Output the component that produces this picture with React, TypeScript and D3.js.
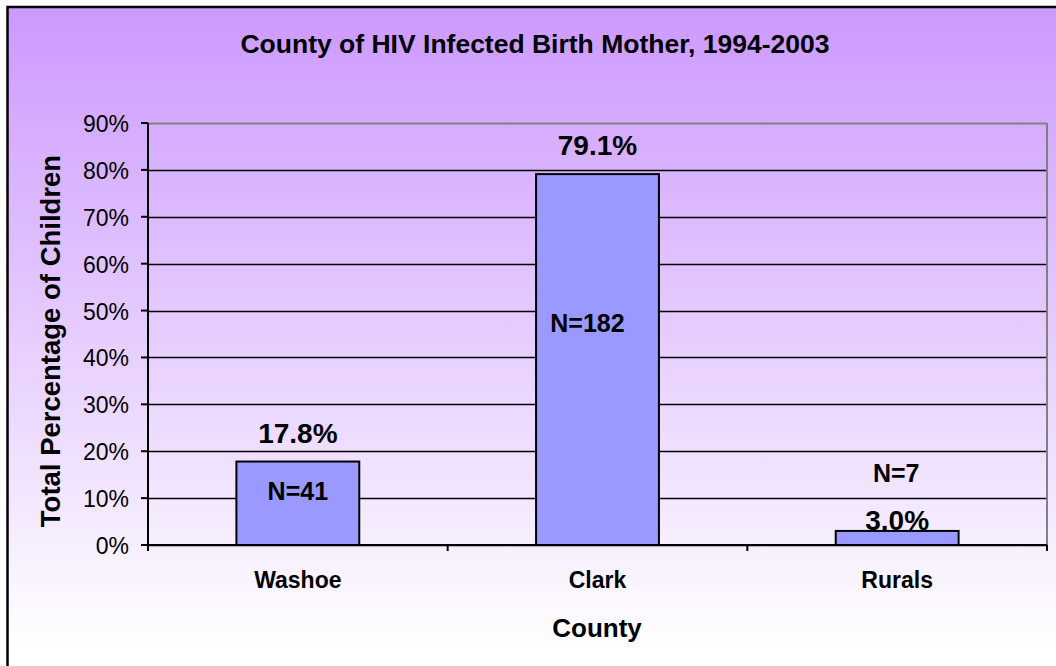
import React from "react";
import * as d3 from "d3";

const categories = ["Washoe", "Clark", "Rurals"];
const percents = [17.8, 79.1, 3.0];
const counts = ["N=41", "N=182", "N=7"];
const yTicks = [0, 10, 20, 30, 40, 50, 60, 70, 80, 90];

const title = "County of HIV Infected Birth Mother, 1994-2003";
const yTitle = "Total Percentage of Children";
const xTitle = "County";

// label placement (layout, not data)
const pctLabelGap = [19, 19, 1];
const countLabelAt = [9.6, 45.4, 13.4];
const countLabelDx = [0, -10, -1];

export default function App() {
  const W = 1056, H = 666;
  const left = 148, right = 1047, top = 123, bottom = 545;
  const x = d3.scaleBand<string>().domain(categories).range([left, right]).paddingInner(0.59).paddingOuter(0.295);
  const xb = d3.scaleBand<string>().domain(categories).range([left, right]);
  const y = d3.scaleLinear().domain([0, 90]).range([bottom, top]);
  const font = "Liberation Sans, Arial, sans-serif";
  const bw = x.bandwidth();

  return (
    <svg width={W} height={H} style={{ position: "absolute", left: 0, top: 0 }} fontFamily={font}>
      <defs>
        <linearGradient id="bg" x1="0" y1="0" x2="0" y2="1">
          <stop offset="0" stopColor="#cc99ff" />
          <stop offset="0.92" stopColor="#ffffff" />
          <stop offset="1" stopColor="#ffffff" />
        </linearGradient>
      </defs>
      <rect x={7.5} y={7} width={1100} height={700} fill="url(#bg)" stroke="#000" strokeWidth={2.5} />
      <text x={535} y={53} textAnchor="middle" fontSize={26.5} fontWeight="bold">{title}</text>
      {yTicks.map((t) => (
        <line key={t} x1={left} x2={right} y1={Math.round(y(t)) + 0.5} y2={Math.round(y(t)) + 0.5} stroke={t === 90 ? "#808080" : "#000"} strokeWidth={t === 90 ? 2 : 1.3} />
      ))}
      <line x1={right} x2={right} y1={top} y2={bottom} stroke="#808080" strokeWidth={2} />
      {categories.map((c, i) => (
        <rect key={c} x={x(c)} y={y(percents[i])} width={bw} height={bottom - y(percents[i])} fill="#9999ff" stroke="#000" strokeWidth={2} />
      ))}
      <line x1={left} x2={left} y1={top} y2={bottom + 6} stroke="#000" strokeWidth={2} />
      <line x1={left} x2={right} y1={bottom} y2={bottom} stroke="#000" strokeWidth={2} />
      {yTicks.map((t) => (
        <g key={t}>
          <line x1={left - 7} x2={left} y1={y(t)} y2={y(t)} stroke="#000" strokeWidth={2} />
          <text x={129} y={y(t) + 9} textAnchor="end" fontSize={23}>{t}%</text>
        </g>
      ))}
      {categories.map((c) => (
        <line key={c} x1={(xb(c) as number) + xb.bandwidth()} x2={(xb(c) as number) + xb.bandwidth()} y1={bottom} y2={bottom + 6} stroke="#000" strokeWidth={2} />
      ))}
      {categories.map((c) => (
        <text key={c} x={(xb(c) as number) + xb.bandwidth() / 2} y={588} textAnchor="middle" fontSize={23} fontWeight="bold">{c}</text>
      ))}
      {categories.map((c, i) => (
        <text key={c} x={(x(c) as number) + bw / 2} y={y(percents[i]) - pctLabelGap[i]} textAnchor="middle" fontSize={28} fontWeight="bold">{percents[i].toFixed(1)}%</text>
      ))}
      {categories.map((c, i) => (
        <text key={c} x={(x(c) as number) + bw / 2 + countLabelDx[i]} y={y(countLabelAt[i])} textAnchor="middle" fontSize={25} fontWeight="bold">{counts[i]}</text>
      ))}
      <text x={597} y={637} textAnchor="middle" fontSize={26} fontWeight="bold">{xTitle}</text>
      <text transform={`translate(60,341) rotate(-90)`} textAnchor="middle" fontSize={27.5} fontWeight="bold">{yTitle}</text>
    </svg>
  );
}
